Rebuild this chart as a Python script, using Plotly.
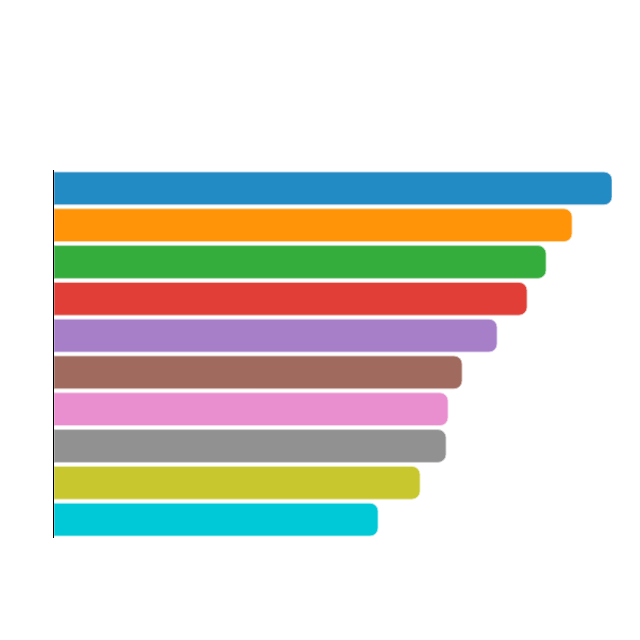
import plotly.graph_objects as go

categories = ["A", "B", "C", "D", "E", "F", "G", "H", "I", "J"]
values = [558, 518, 492, 473, 443, 408, 394, 392, 366, 324]
colors = ["#228bc4", "#ff9408", "#35ad3d", "#e03e36", "#a67fc8",
          "#a06a5e", "#e98fcf", "#919191", "#c9c72e", "#00c9d7"]
edge_colors = ["rgba(180,210,235,0.9)", "rgba(255,215,170,0.9)", "rgba(180,225,185,0.9)",
               "rgba(240,190,185,0.9)", "rgba(220,205,240,0.9)", "rgba(215,195,190,0.9)",
               "rgba(245,215,235,0.9)", "rgba(215,215,215,0.9)", "rgba(235,235,180,0.9)",
               "rgba(170,235,240,0.9)"]

fig = go.Figure(
    go.Bar(
        x=values,
        y=categories,
        orientation="h",
        marker=dict(color=colors, cornerradius=8,
                    line=dict(color=edge_colors, width=1)),
        hoverinfo="skip",
    )
)

fig.update_layout(
    width=640,
    height=640,
    template="plotly_white",
    plot_bgcolor="white",
    paper_bgcolor="white",
    showlegend=False,
    bargap=0.11,
    margin=dict(l=46, r=36, t=162, b=110),
    xaxis=dict(visible=False, range=[0, 558], showgrid=False, zeroline=False),
    yaxis=dict(autorange="reversed", showticklabels=False, ticks="", showgrid=False,
               zeroline=False, showline=True, linecolor="black", linewidth=1),
)

fig.write_html("out.html")
